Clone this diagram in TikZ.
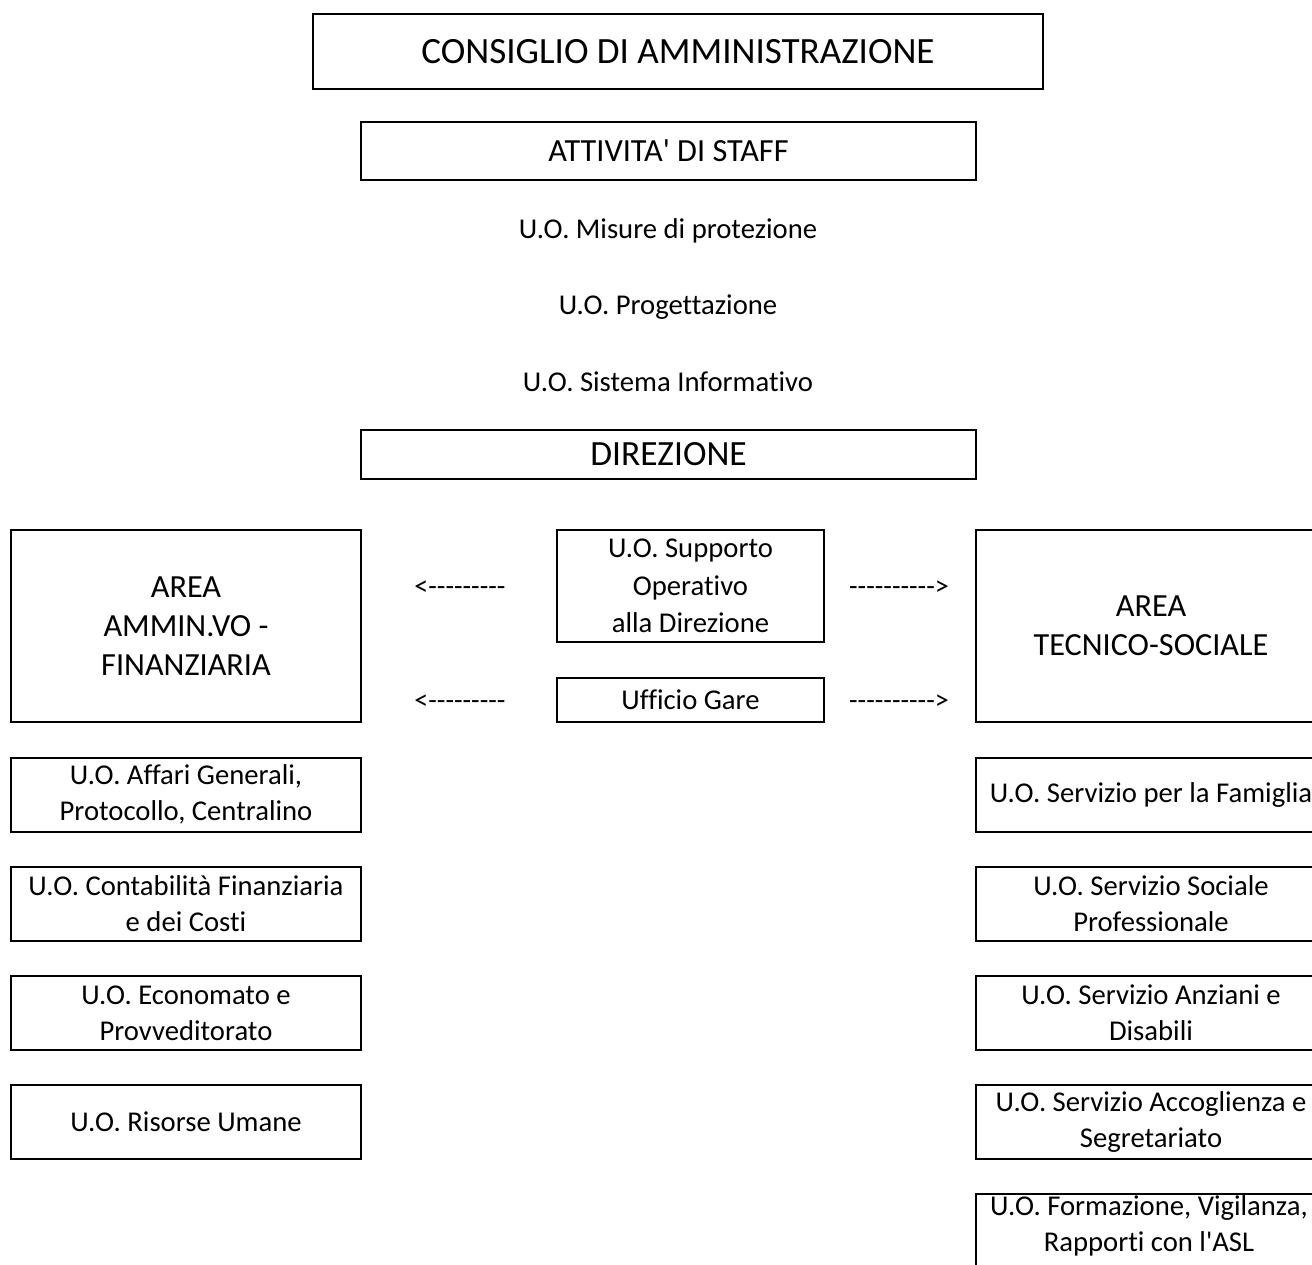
\documentclass[tikz,border=0pt]{standalone}
\usepackage{fontspec}
\setmainfont{Carlito}[Ligatures={TeXOff,NoCommon}]
\begin{document}
\begin{tikzpicture}[x=0.75pt,y=-0.75pt,
  box/.style={draw,line width=1.5pt,inner sep=0pt,align=center},
  mid/.style={font=\fontsize{24.2}{29.2}\selectfont},
  small/.style={align=center,font=\fontsize{21.5}{27}\selectfont},
  dashtxt/.style={font=\fontsize{21}{24}\selectfont},
  unit/.style={box,small,minimum width=350*0.75pt,minimum height=74*0.75pt}]
\useasboundingbox (0,0) rectangle (1312,1264);
\clip (0,0) rectangle (1312,1264);
% top
\node[box,font=\fontsize{27.8}{32}\selectfont,minimum width=730*0.75pt,minimum height=75*0.75pt] (cda) at (678,51.5) {CONSIGLIO DI AMMINISTRAZIONE};
\node[box,mid,minimum width=615*0.75pt,minimum height=58*0.75pt] (staff) at (668.5,151) {ATTIVITA' DI STAFF};
\node[small] (mis) at (668,231) {U.O. Misure di protezione};
\node[small] (prog) at (668,307) {U.O. Progettazione};
\node[small] (sis) at (668,382) {U.O. Sistema Informativo};
\node[box,font=\fontsize{26.6}{30}\selectfont,minimum width=615*0.75pt,minimum height=49*0.75pt] (dir) at (668.5,454.5) {DIREZIONE};
% areas
\node[box,mid,minimum width=350*0.75pt,minimum height=192*0.75pt] (aaf) at (186,626) {AREA\\AMMIN.VO -\\FINANZIARIA};
\node[box,mid,minimum width=350*0.75pt,minimum height=192*0.75pt] (ats) at (1151,626) {AREA\\TECNICO-SOCIALE};
\node[box,small,minimum width=267*0.75pt,minimum height=112*0.75pt,font=\fontsize{21.5}{28}\selectfont] (sup) at (690.5,586) {U.O. Supporto\\Operativo\\alla Direzione};
\node[box,small,minimum width=267*0.75pt,minimum height=44*0.75pt] (gare) at (690.5,700) {Ufficio Gare};
\node[dashtxt] (l1) at (460,588) {<---------};
\node[dashtxt] (l2) at (460,702) {<---------};
\node[dashtxt] (r1) at (899,588) {---------->};
\node[dashtxt] (r2) at (899,702) {---------->};
% left units
\node[unit] (u1) at (186,794.5) {U.O. Affari Generali,\\Protocollo, Centralino};
\node[unit] (u2) at (186,904) {U.O. Contabilità Finanziaria\\e dei Costi};
\node[unit] (u3) at (186,1013) {U.O. Economato e\\Provveditorato};
\node[unit] (u4) at (186,1122) {U.O. Risorse Umane};
% right units
\node[unit] (v1) at (1151,794.5) {U.O. Servizio per la Famiglia};
\node[unit] (v2) at (1151,904) {U.O. Servizio Sociale\\Professionale};
\node[unit] (v3) at (1151,1013) {U.O. Servizio Anziani e\\Disabili};
\node[unit] (v4) at (1151,1122) {U.O. Servizio Accoglienza e\\Segretariato};
\node[unit,minimum height=80*0.75pt] (v5) at (1151,1234) {};
\node[small] (v5t) at (1149,1226) {U.O. Formazione, Vigilanza,\\Rapporti con l'ASL};
\end{tikzpicture}
\end{document}
